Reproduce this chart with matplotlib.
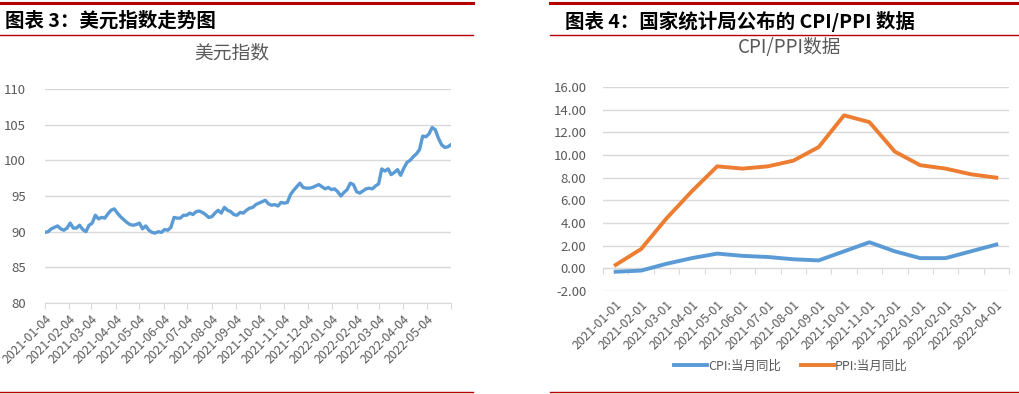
import matplotlib
matplotlib.use("Agg")
import matplotlib.pyplot as plt
from matplotlib.lines import Line2D
import pandas as pd

plt.rcParams['font.family'] = ['Noto Sans CJK SC', 'DejaVu Sans']

# 美元指数, every 4 calendar days from 2021-01-04
usd_start = '2021-01-04'
usd_values = [
    89.9, 90.0, 90.4, 90.6, 90.8, 90.4, 90.2, 90.5, 91.2, 90.5,
    90.5, 90.9, 90.3, 90.0, 90.9, 91.2, 92.3, 91.8, 92.0, 91.9,
    92.5, 93.0, 93.2, 92.6, 92.1, 91.7, 91.3, 91.0, 90.9, 91.0,
    91.2, 90.4, 90.8, 90.2, 89.9, 89.8, 90.0, 89.9, 90.3, 90.2,
    90.6, 92.0, 91.9, 91.9, 92.3, 92.3, 92.6, 92.4, 92.8, 92.9,
    92.7, 92.4, 92.0, 92.1, 92.6, 93.0, 92.6, 93.4, 93.0, 92.8,
    92.4, 92.3, 92.7, 92.6, 93.0, 93.3, 93.4, 93.8, 94.0, 94.2,
    94.4, 93.9, 93.7, 93.8, 93.6, 94.1, 94.0, 94.1, 95.2, 95.8,
    96.3, 96.8, 96.2, 96.1, 96.1, 96.2, 96.4, 96.6, 96.3, 96.0,
    96.2, 95.9, 96.0, 95.6, 95.0, 95.5, 95.9, 96.8, 96.6, 95.6,
    95.4, 95.7, 96.0, 96.1, 96.0, 96.4, 96.7, 98.8, 98.5, 98.8,
    98.0, 98.3, 98.7, 97.9, 98.9, 99.7, 100.0, 100.5, 100.9, 101.5,
    103.4, 103.3, 103.7, 104.6, 104.3, 103.1, 102.2, 101.8, 101.9, 102.2,
]
usd_dates = pd.date_range(usd_start, periods=len(usd_values), freq='4D')
usd_ticks = pd.date_range('2021-01-04', '2022-06-04', freq=pd.DateOffset(months=1))

# 国家统计局 CPI / PPI 当月同比
months = ['2021-01-01', '2021-02-01', '2021-03-01', '2021-04-01', '2021-05-01',
          '2021-06-01', '2021-07-01', '2021-08-01', '2021-09-01', '2021-10-01',
          '2021-11-01', '2021-12-01', '2022-01-01', '2022-02-01', '2022-03-01',
          '2022-04-01']
cpi = [-0.3, -0.2, 0.4, 0.9, 1.3, 1.1, 1.0, 0.8, 0.7, 1.5, 2.3, 1.5, 0.9, 0.9, 1.5, 2.1]
ppi = [0.3, 1.7, 4.4, 6.8, 9.0, 8.8, 9.0, 9.5, 10.7, 13.5, 12.9, 10.3, 9.1, 8.8, 8.3, 8.0]

BLUE = '#5B9BD5'
ORANGE = '#ED7D31'
GRID = '#D9D9D9'
TXT = '#595959'
RED = '#B50000'
W, H = 1019, 394

fig = plt.figure(figsize=(W / 100, H / 100), dpi=100)


def px_axes(x0, y_top, x1, y_bot):
    return fig.add_axes([x0 / W, 1 - y_bot / H, (x1 - x0) / W, (y_bot - y_top) / H])


def hline(y, x0, x1, lw):
    fig.add_artist(Line2D([x0 / W, x1 / W], [1 - y / H, 1 - y / H], color=RED, lw=lw))


def slant(ax):
    for lab in ax.get_xticklabels():
        lab.set_rotation(45)
        lab.set_ha('right')
        lab.set_rotation_mode('anchor')


# header / footer rules
hline(2.5, 0, 473, 2.2)
hline(34.5, 0, 473, 1.0)
hline(391.5, 0, 473, 1.0)
hline(2.5, 550, 1019, 2.2)
hline(34.5, 550, 1019, 1.0)
hline(391.5, 550, 1019, 1.0)

fig.text(5 / W, 1 - 21 / H, '图表 3：美元指数走势图', fontsize=14, fontweight='bold',
         style='italic', va='center', ha='left', color='black')
fig.text(565 / W, 1 - 21 / H, '图表 4：国家统计局公布的 CPI/PPI 数据', fontsize=14,
         fontweight='bold', style='italic', va='center', ha='left', color='black')

# ---- left: 美元指数 ----
ax1 = px_axes(45, 89, 451, 303)
ax1.plot(usd_dates, usd_values, color=BLUE, lw=2.4, solid_joinstyle='round')
ax1.set_ylim(80, 110)
ax1.set_yticks(range(80, 111, 5))
ax1.set_xlim(usd_ticks[0], usd_ticks[-1])
ax1.set_xticks(usd_ticks)
ax1.set_xticklabels([d.strftime('%Y-%m-%d') for d in usd_ticks[:-1]] + [''])
slant(ax1)
ax1.grid(axis='y', color=GRID, lw=1)
ax1.set_axisbelow(True)
for s in ['top', 'right', 'left']:
    ax1.spines[s].set_visible(False)
ax1.spines['bottom'].set_color(GRID)
ax1.tick_params(axis='y', length=0, labelsize=9.5, labelcolor=TXT, pad=14)
ax1.tick_params(axis='x', length=4, color=GRID, labelsize=8.8, labelcolor=TXT, pad=3)
fig.text(232 / W, 1 - 53 / H, '美元指数', fontsize=13.5, color=TXT,
         ha='center', va='center')

# ---- right: CPI/PPI数据 ----
ax2 = px_axes(603, 87, 1009, 291)
x = range(len(months))
ax2.plot(x, cpi, color=BLUE, lw=2.8, solid_joinstyle='round', label='CPI:当月同比')
ax2.plot(x, ppi, color=ORANGE, lw=2.8, solid_joinstyle='round', label='PPI:当月同比')
ax2.set_ylim(-2, 16)
ax2.set_yticks(range(-2, 17, 2))
ax2.set_yticklabels([f'{v:.2f}' for v in range(-2, 17, 2)])
ax2.set_xlim(-0.5, len(months) - 0.5)
ax2.set_xticks(list(x))
ax2.set_xticklabels(months)
slant(ax2)
ax2.grid(axis='y', color=GRID, lw=1)
ax2.set_axisbelow(True)
for s in ['top', 'right', 'left', 'bottom']:
    ax2.spines[s].set_visible(False)
ax2.tick_params(axis='y', length=0, labelsize=9.5, labelcolor=TXT, pad=12)
ax2.tick_params(axis='x', length=0, labelsize=8.8, labelcolor=TXT, pad=5)

# category axis crossing at 0
sec = ax2.secondary_xaxis(2 / 18)
sec.set_xticks([i - 0.5 for i in range(len(months) + 1)])
sec.set_xticklabels([])
sec.tick_params(length=4, color=GRID)
sec.spines['bottom'].set_color(GRID)

fig.text(790 / W, 1 - 48 / H, 'CPI/PPI数据', fontsize=13.5, color=TXT,
         ha='center', va='center')

fig.legend(handles=ax2.get_lines(), loc='center', bbox_to_anchor=(791 / W, 1 - 366 / H),
           ncol=2, frameon=False, handlelength=2.6, handletextpad=0.1,
           columnspacing=1.6, labelcolor=TXT, prop={'size': 9})

fig.savefig('out.png', dpi=100)
